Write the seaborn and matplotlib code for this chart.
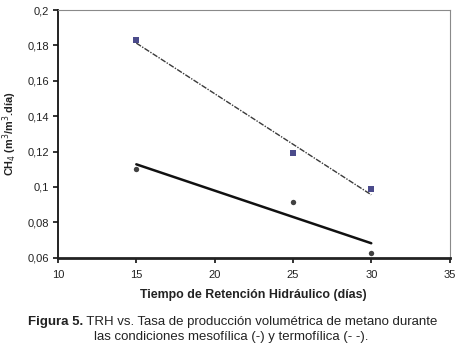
import matplotlib
matplotlib.use("Agg")
import matplotlib.pyplot as plt
import seaborn as sns
import pandas as pd

# Hydraulic retention time (days) and volumetric methane production rate
trh_dias = [15, 25, 30]
ch4_termofilica = [0.183, 0.119, 0.099]   # thermophilic, squares, dashed fit
ch4_mesofilica = [0.110, 0.0914, 0.0626]  # mesophilic, circles, solid fit

x_ticks = [10, 15, 20, 25, 30, 35]
y_ticks = [0.06, 0.08, 0.10, 0.12, 0.14, 0.16, 0.18, 0.20]
y_tick_labels = ["0,06", "0,08", "0,1", "0,12", "0,14", "0,16", "0,18", "0,2"]

df_t = pd.DataFrame({"trh": trh_dias, "ch4": ch4_termofilica})
df_m = pd.DataFrame({"trh": trh_dias, "ch4": ch4_mesofilica})

sns.set_style("white")
plt.rcParams["font.family"] = ["Liberation Sans", "DejaVu Sans"]

fig = plt.figure(figsize=(4.63, 3.5), dpi=100)
ax = fig.add_axes([0.1253, 0.2637, 0.8457, 0.7077])

sns.regplot(data=df_t, x="trh", y="ch4", ax=ax, ci=None,
            marker="s",
            scatter_kws=dict(s=18, color="#1e1e6e", linewidths=0, zorder=3),
            line_kws=dict(color="#3a3a3a", lw=1.0, ls=(0, (4, 1, 1, 1)), zorder=2))
sns.regplot(data=df_m, x="trh", y="ch4", ax=ax, ci=None,
            marker="o",
            scatter_kws=dict(s=15, color="#111111", linewidths=0, zorder=3),
            line_kws=dict(color="#111111", lw=1.8, zorder=2))

ax.set_xlim(10, 35)
ax.set_ylim(0.06, 0.20)
ax.set_xticks(x_ticks)
ax.set_xticklabels([str(v) for v in x_ticks], fontsize=8)
ax.set_yticks(y_ticks)
ax.set_yticklabels(y_tick_labels, fontsize=8)

ax.tick_params(axis="both", which="major", direction="out", length=3.5,
               width=1.2, color="#111111", labelcolor="#222222",
               bottom=True, left=True, top=False, right=False)
ax.tick_params(axis="x", pad=5)
ax.tick_params(axis="y", pad=3)

for side in ("top", "right"):
    ax.spines[side].set_color("#8a8a8a")
    ax.spines[side].set_linewidth(0.8)
ax.spines["left"].set_color("#111111")
ax.spines["left"].set_linewidth(1.3)
ax.spines["bottom"].set_color("#222222")
ax.spines["bottom"].set_linewidth(2.0)

ax.set_xlabel("Tiempo de Retención Hidráulico (días)", fontsize=8.9,
              fontweight="bold", color="#222222", labelpad=7)
ax.set_ylabel("CH$_4$ (m$^3$/m$^3$.día)", fontsize=7.8, fontweight="bold",
              color="#222222", labelpad=6)

cap_size = 9.5
cap1_bold = "Figura 5."
cap1_rest = " TRH vs. Tasa de producción volumétrica de metano durante"
t1 = fig.text(0.061, 0.081, cap1_bold, fontsize=cap_size, ha="left",
              va="center", fontweight="bold", color="#222222")
fig.canvas.draw()
bb = t1.get_window_extent()
fig.text(bb.x1 / fig.bbox.width, 0.081, cap1_rest, fontsize=cap_size,
         ha="left", va="center", color="#222222")
fig.text(0.5, 0.037, "las condiciones mesofílica (-) y termofílica (- -).",
         fontsize=cap_size, ha="center", va="center", color="#222222")

fig.savefig("out.png", dpi=100)
